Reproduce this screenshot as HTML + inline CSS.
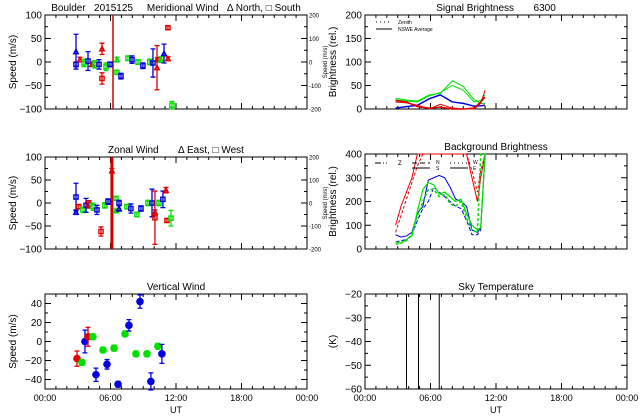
<!DOCTYPE html>
<html><head><meta charset="utf-8">
<style>
html,body{margin:0;padding:0;background:#fff;}
svg{display:block;font-family:"Liberation Sans",sans-serif;}
text{white-space:pre;}
</style></head>
<body>
<svg id="c" width="640" height="420" viewBox="0 0 640 420" xmlns="http://www.w3.org/2000/svg"></svg>
<script>
// ---- data ----
const merT   = [2.84,2.84,3.2,3.57,3.94,4.3,4.58,4.95,5.22,5.22,5.59,5.95,6.59,6.59,6.96,7.6,7.97,8.52,8.97,9.6,9.89,10.26,10.35,10.62,10.9,11.26,11.26,11.63];
const merV   = [22,-5,5,-2,2,-5,-5,-5,28,-35,-10,-5,5,-22,-30,8,5,0,-8,0,-2,-12,5,5,18,7,73,-92];
const merE   = [37,5,5,8,20,5,8,10,12,12,8,5,5,4,6,5,8,5,6,6,30,47,4,6,20,4,4,8];
const merC   = ['b','b','r','g','b','r','g','b','r','r','g','b','g','g','b','g','b','g','b','g','b','r','r','g','b','r','r','g'];
const merM   = ['t','s','t','s','s','t','s','s','t','s','s','s','t','s','s','s','s','s','s','s','s','t','s','t','t','t','s','s'];
const zonT   = [2.84,2.84,3.1,3.48,3.76,4.03,4.4,4.76,5.13,5.49,5.77,6.13,6.5,6.5,6.78,6.78,7.5,7.87,8.42,8.79,9.43,9.8,10.07,10.07,10.44,10.8,11.08,11.17,11.54];
const zonV   = [13,-20,-8,-15,-5,-3,-8,-15,-62,-5,3,70,10,-17,0,-12,-8,-12,-25,-12,0,0,-20,-32,0,8,28,-38,-33];
const zonE   = [30,5,5,6,15,8,8,10,10,6,6,5,4,4,6,6,5,10,5,6,6,30,5,58,6,18,6,4,17];
const zonC   = ['b','b','r','g','b','r','g','b','r','g','b','r','g','g','b','b','g','b','g','b','g','b','r','r','g','b','r','r','g'];
const zonM   = ['s','t','s','s','s','s','s','s','s','s','s','t','s','t','s','t','s','s','s','s','s','s','t','s','s','s','t','s','s'];
const verT   = [2.93,3.39,3.66,3.94,4.39,4.67,5.31,5.68,6.32,6.69,7.33,7.69,8.33,8.7,9.34,9.7,10.34,10.71];
const verV   = [-18,-22,0,5,5,-35,-9,-24,-7,-45,8,17,-13,42,-13,-42,-5,-13];
const verE   = [8,3,12,10,3,7,3,5,3,3,3,6,3,7,3,9,3,10];
const verC   = ['r','g','b','r','g','b','g','b','g','b','g','b','g','b','g','b','g','b'];
const sigT   = [2.8,3.8,4.8,5.9,6.9,8.0,9.0,10.0,10.6,11.0];
const sigG1  = [23,19,17,30,33,60,48,20,12,12];
const sigG2  = [20,17,15,28,35,50,40,15,18,30];
const sigB   = [2,5,8,22,30,15,12,6,7,8];
const sigR1  = [15,13,8,0,10,2,0,0,12,40];
const sigR2  = [18,15,5,2,4,0,0,2,15,25];
const bgT    = [2.8,3.3,3.8,4.3,4.8,5.3,5.8,6.3,6.8,7.3,7.8,8.3,8.8,9.3,9.8,10.3,10.6,11.0];
const bgB1   = [60,50,55,70,150,180,290,300,310,300,260,210,200,180,80,70,90,400];
const bgB2   = [30,35,40,60,120,170,200,260,240,220,200,180,170,120,60,60,80,400];
const bgG1   = [30,25,40,55,160,250,280,270,230,240,220,200,210,150,100,80,90,400];
const bgG2   = [20,25,35,60,140,200,250,250,220,230,190,180,200,130,80,70,400,400];
const bgR1   = [100,180,240,300,400,400,400,400,400,400,400,400,400,400,300,200,300,400];
const bgR2   = [70,140,210,280,350,400,400,400,400,400,400,400,400,400,330,240,330,400];
const skyT   = [3.8,4.9,6.8];

const COL={r:'#e00000',g:'#00e000',b:'#0000e0'};
const svg=document.getElementById('c');
const NS='http://www.w3.org/2000/svg';
function el(tag,attrs,parent){const e=document.createElementNS(NS,tag);for(const k in attrs)e.setAttribute(k,attrs[k]);(parent||svg).appendChild(e);return e;}
function txt(s,x,y,size,anchor,parent,rot){const t=el('text',{x:x,y:y,'font-size':size,'text-anchor':anchor||'middle',fill:'#000'},parent);if(rot)t.setAttribute('transform','rotate(-90 '+x+' '+y+')');t.textContent=s;return t;}

function panel(name,x0,x1,y0,y1,vmin,vmax,yticks,yminor,title,ylab,xlabels,rightAxis){
  const g=el('g',{});
  
  
  const sx=h=>x0+(x1-x0)*h/24;
  const sy=v=>y1-(y1-y0)*(v-vmin)/(vmax-vmin);
  el('rect',{x:x0,y:y0,width:x1-x0,height:y1-y0,fill:'none',stroke:'#000','stroke-width':1},g);
  for(let h=0;h<=24;h++){const X=sx(h);const L=(h%6==0)?6:3;
    el('line',{x1:X,x2:X,y1:y1,y2:y1-L,stroke:'#000'},g);el('line',{x1:X,x2:X,y1:y0,y2:y0+L,stroke:'#000'},g);}
  yticks.forEach(v=>{const Y=sy(v);
    el('line',{x1:x0,x2:x0+6,y1:Y,y2:Y,stroke:'#000'},g);el('line',{x1:x1,x2:x1-6,y1:Y,y2:Y,stroke:'#000'},g);
    txt(String(v).replace('-','−'),x0-3,Y+3.5,10,'end',g);});
  yminor.forEach(v=>{const Y=sy(v);el('line',{x1:x0,x2:x0+3,y1:Y,y2:Y,stroke:'#000'},g);el('line',{x1:x1,x2:x1-3,y1:Y,y2:Y,stroke:'#000'},g);});
  txt(title,(x0+x1)/2,y0-4,10,'middle',g);
  txt(ylab,x0-29,(y0+y1)/2,10,'middle',g,true);
  if(xlabels){['00:00','06:00','12:00','18:00','00:00'].forEach((s,i)=>txt(s,sx(i*6),y1+12,9,'middle',g));txt('UT',(x0+x1)/2,y1+24,9,'middle',g);}
  if(rightAxis){[[200,100],[100,50],[0,0],[-100,-50],[-200,-100]].forEach(p=>{txt(String(p[0]),x1+2,sy(p[1])+2.5,6,'start',g);});
    txt('Speed (m/s)',x1+20,(y0+y1)/2,6,'middle',g,true);}
  return {g,sx,sy,vmax};
}
function points(p,T,V,E,C,M,filled){
  T.forEach((t,i)=>{const X=p.sx(t),Y=p.sy(V[i]),c=COL[C[i]];
    const a=p.sy(V[i]+E[i]),b=p.sy(V[i]-E[i]);
    const eb=el('path',{d:'M'+X+' '+a+'V'+b+'M'+(X-2.5)+' '+a+'h5M'+(X-2.5)+' '+b+'h5',stroke:c,'stroke-width':1.3,fill:'none'},p.g);
    
    
    let m;
    if(filled){m=el('circle',{cx:X,cy:Y,r:3.8,fill:c},p.g);}
    else if(M&&M[i]=='t'){m=el('path',{d:'M'+(X-2.3)+' '+(Y+2)+'L'+X+' '+(Y-2.3)+'L'+(X+2.3)+' '+(Y+2)+'Z',fill:'none',stroke:c,'stroke-width':1.4},p.g);}
    else{m=el('rect',{x:X-2.1,y:Y-2.1,width:4.2,height:4.2,fill:'none',stroke:c,'stroke-width':1.4},p.g);}
    
    
  });
}
function line(p,T,V,c,dash,w,cap){
  if(cap===undefined)cap=p.vmax;
  const pts=T.map((t,i)=>p.sx(t)+','+p.sy(Math.min(V[i],cap))).join(' ');
  const l=el('polyline',{points:pts,fill:'none',stroke:c,'stroke-width':w||1},p.g);
  if(dash)l.setAttribute('stroke-dasharray',dash);
  
  
}

// Meridional
const pm=panel('meridional-wind-panel',45,307,15,109,-100,100,[100,50,0,-50,-100],[75,25,-25,-75],'Boulder   2015125     Meridional Wind   Δ North, □ South','Speed (m/s)',false,true);
el('line',{x1:pm.sx(6.23),x2:pm.sx(6.23),y1:15,y2:109,stroke:'#d00000','stroke-width':1.5},pm.g);
points(pm,merT,merV,merE,merC,merM,false);
// Zonal
const pz=panel('zonal-wind-panel',45,307,157,249,-100,100,[100,50,0,-50,-100],[75,25,-25,-75],'Zonal Wind       Δ East, □ West','Speed (m/s)',false,true);
el('line',{x1:pz.sx(6.13),x2:pz.sx(6.13),y1:157,y2:249,stroke:'#d00000','stroke-width':3},pz.g);
points(pz,zonT,zonV,zonE,zonC,zonM,false);
// Vertical
const pv=panel('vertical-wind-panel',45,307,294,389,-50,50,[40,20,0,-20,-40],[50,30,10,-10,-30,-50],'Vertical Wind','Speed (m/s)',true,false);
points(pv,verT,verV,verE,verC,null,true);
// Signal brightness
const ps=panel('signal-brightness-panel',365,627,15,109,0,200,[200,150,100,50,0],[175,125,75,25],'Signal Brightness       6300','Brightness (rel.)',false,false);
line(ps,sigT,sigG1,'#00e000');line(ps,sigT,sigG2,'#00e000');line(ps,sigT,sigB,'#0000e0',null,1.5);
line(ps,sigT,sigR1,'#e00000');line(ps,sigT,sigR2,'#e00000',null,1.5);
el('line',{x1:376,x2:392,y1:22,y2:22,stroke:'#000','stroke-dasharray':'1,3'},ps.g);txt('Zenith',398,24,5,'start',ps.g);
el('line',{x1:376,x2:392,y1:29,y2:29,stroke:'#000'},ps.g);txt('NSWE Average',398,31,5,'start',ps.g);
// Background brightness
const pb=panel('background-brightness-panel',365,627,154,249,0,400,[400,300,200,100,0],[350,250,150,50],'Background Brightness','Brightness (rel.)',false,false);
line(pb,bgT,bgR1,'#e00000',null,1,400);line(pb,bgT,bgR2,'#e00000','3,2',1,400);
line(pb,bgT,bgB1,'#0000e0',null,1,400);line(pb,bgT,bgB2,'#0000e0','4,2',1,400);
line(pb,bgT,bgG1,'#00e000',null,1.2,400);line(pb,bgT,bgG2,'#00e000','3,2',1.5,400);
el('line',{x1:375,x2:387,y1:163,y2:163,stroke:'#000','stroke-dasharray':'6,2,1,2'},pb.g);txt('Z',398,165,6,'start',pb.g);
el('line',{x1:412,x2:430,y1:163,y2:163,stroke:'#000','stroke-dasharray':'5,3'},pb.g);txt('N',436,164,5,'start',pb.g);
el('line',{x1:412,x2:430,y1:168,y2:168,stroke:'#000'},pb.g);txt('S',436,170,5,'start',pb.g);
el('line',{x1:450,x2:468,y1:163,y2:163,stroke:'#000','stroke-dasharray':'1,3'},pb.g);txt('W',473,164,5,'start',pb.g);
el('line',{x1:450,x2:468,y1:168,y2:168,stroke:'#000'},pb.g);txt('E',473,170,5,'start',pb.g);
// Sky temperature
const pk=panel('sky-temperature-panel',365,627,294,389,-60,-20,[-20,-30,-40,-50,-60],[-25,-35,-45,-55],'Sky Temperature','(K)',true,false);
skyT.forEach(t=>{const l=el('line',{x1:pk.sx(t),x2:pk.sx(t),y1:294,y2:389,stroke:'#000','stroke-width':1},pk.g);

});
</script>
</body></html>
